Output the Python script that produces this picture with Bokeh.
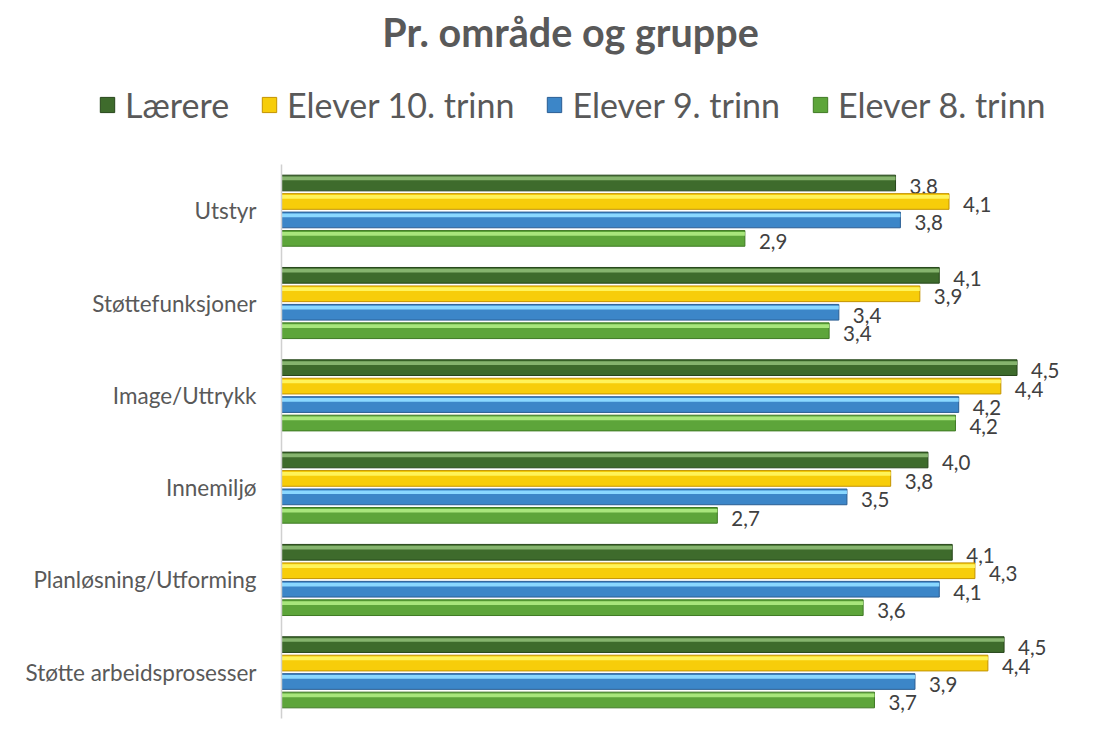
from bokeh.plotting import figure
from bokeh.models import Range1d, ColumnDataSource, Legend, LegendItem, Label, FixedTicker
from bokeh.transform import dodge
from bokeh.core.properties import value
from bokeh.embed import file_html
from bokeh.resources import INLINE

# ---------------- data ----------------
categories = ["Utstyr", "Støttefunksjoner", "Image/Uttrykk", "Innemiljø",
              "Planløsning/Utforming", "Støtte arbeidsprosesser"]
series_names = ["Lærere", "Elever 10. trinn", "Elever 9. trinn", "Elever 8. trinn"]
laerere = [3.79, 4.06, 4.54, 3.99, 4.14, 4.46]
elever10 = [4.12, 3.94, 4.44, 3.76, 4.28, 4.36]
elever9 = [3.82, 3.44, 4.18, 3.49, 4.06, 3.91]
elever8 = [2.86, 3.38, 4.16, 2.69, 3.59, 3.66]
title_text = "Pr. område og gruppe"

# ---------------- style ----------------
FONT = "Lato"
fills = ["#3e6b2c", "#f7cd0a", "#3c86c8", "#5da53a"]
lights = ["#86b46e", "#fff35a", "#8ad8ff", "#a8e67c"]
darks = ["#27461b", "#c39300", "#2a5d93", "#3f7a24"]
offsets = [0.30, 0.10, -0.10, -0.30]

def fmt(v):
    return f"{v:.1f}".replace(".", ",")

n = len(categories)
ypos = [n - 1 - i for i in range(n)]          # first category at the top
series_vals = [laerere, elever10, elever9, elever8]
data = {"cat": categories, "y": ypos}
for i, vals in enumerate(series_vals):
    data[f"v{i}"] = vals
    data[f"l{i}"] = [fmt(v) for v in vals]
source = ColumnDataSource(data)

W, H = 1093, 721
p = figure(width=W, height=H,
           x_range=Range1d(-1.735, 5.012),
           y_range=Range1d(-0.533, 7.277),
           output_backend="svg", toolbar_location=None,
           min_border_left=0, min_border_right=0,
           min_border_top=0, min_border_bottom=0)

p.xaxis.visible = False
p.xgrid.visible = False
p.ygrid.visible = False
p.outline_line_color = None
p.background_fill_color = "white"
p.border_fill_color = "white"

yax = p.yaxis[0]
yax.fixed_location = 0
yax.bounds = (-0.5, n - 0.5)
yax.ticker = FixedTicker(ticks=ypos)
yax.major_label_overrides = {y: c for y, c in zip(ypos, categories)}
yax.axis_line_color = "#d0d0d0"
yax.axis_line_width = 1.5
yax.major_tick_line_color = None
yax.minor_tick_line_color = None
yax.major_label_standoff = 19
yax.major_label_text_font = FONT
yax.major_label_text_font_size = "22.5px"
yax.major_label_text_color = "#595959"

items = []
for i, name in enumerate(series_names):
    off = offsets[i]
    r = p.hbar(y=dodge("y", off), right=f"v{i}", left=0,
               height=0.17, fill_color=fills[i], line_color=darks[i],
               line_width=1, source=source)
    p.hbar(y=dodge("y", off + 0.05), right=f"v{i}", left=0,
           height=0.04, fill_color=lights[i], line_color=None, source=source)
    p.text(x=f"v{i}", y=dodge("y", off), text=f"l{i}",
           x_offset=14, y_offset=3, text_baseline="middle", text_align="left",
           text_font=value(FONT), text_font_size="20.5px", text_color="#404040",
           source=source)
    items.append(LegendItem(label=name, renderers=[r]))

legend = Legend(items=items, orientation="horizontal", location=(98, 596),
                label_text_font=FONT, label_text_font_size="34px",
                label_text_color="#595959", glyph_width=18, glyph_height=19,
                label_standoff=9, spacing=31, border_line_color=None,
                background_fill_alpha=0, padding=0, margin=0)
p.add_layout(legend, "center")

title = Label(x=570, y=H - 31, x_units="screen", y_units="screen", text=title_text,
              text_align="center", text_baseline="middle", text_font=FONT,
              text_font_size="39.5px", text_font_style="bold", text_color="#595959")
p.add_layout(title)

open("out.html", "w").write(file_html(p, INLINE))
